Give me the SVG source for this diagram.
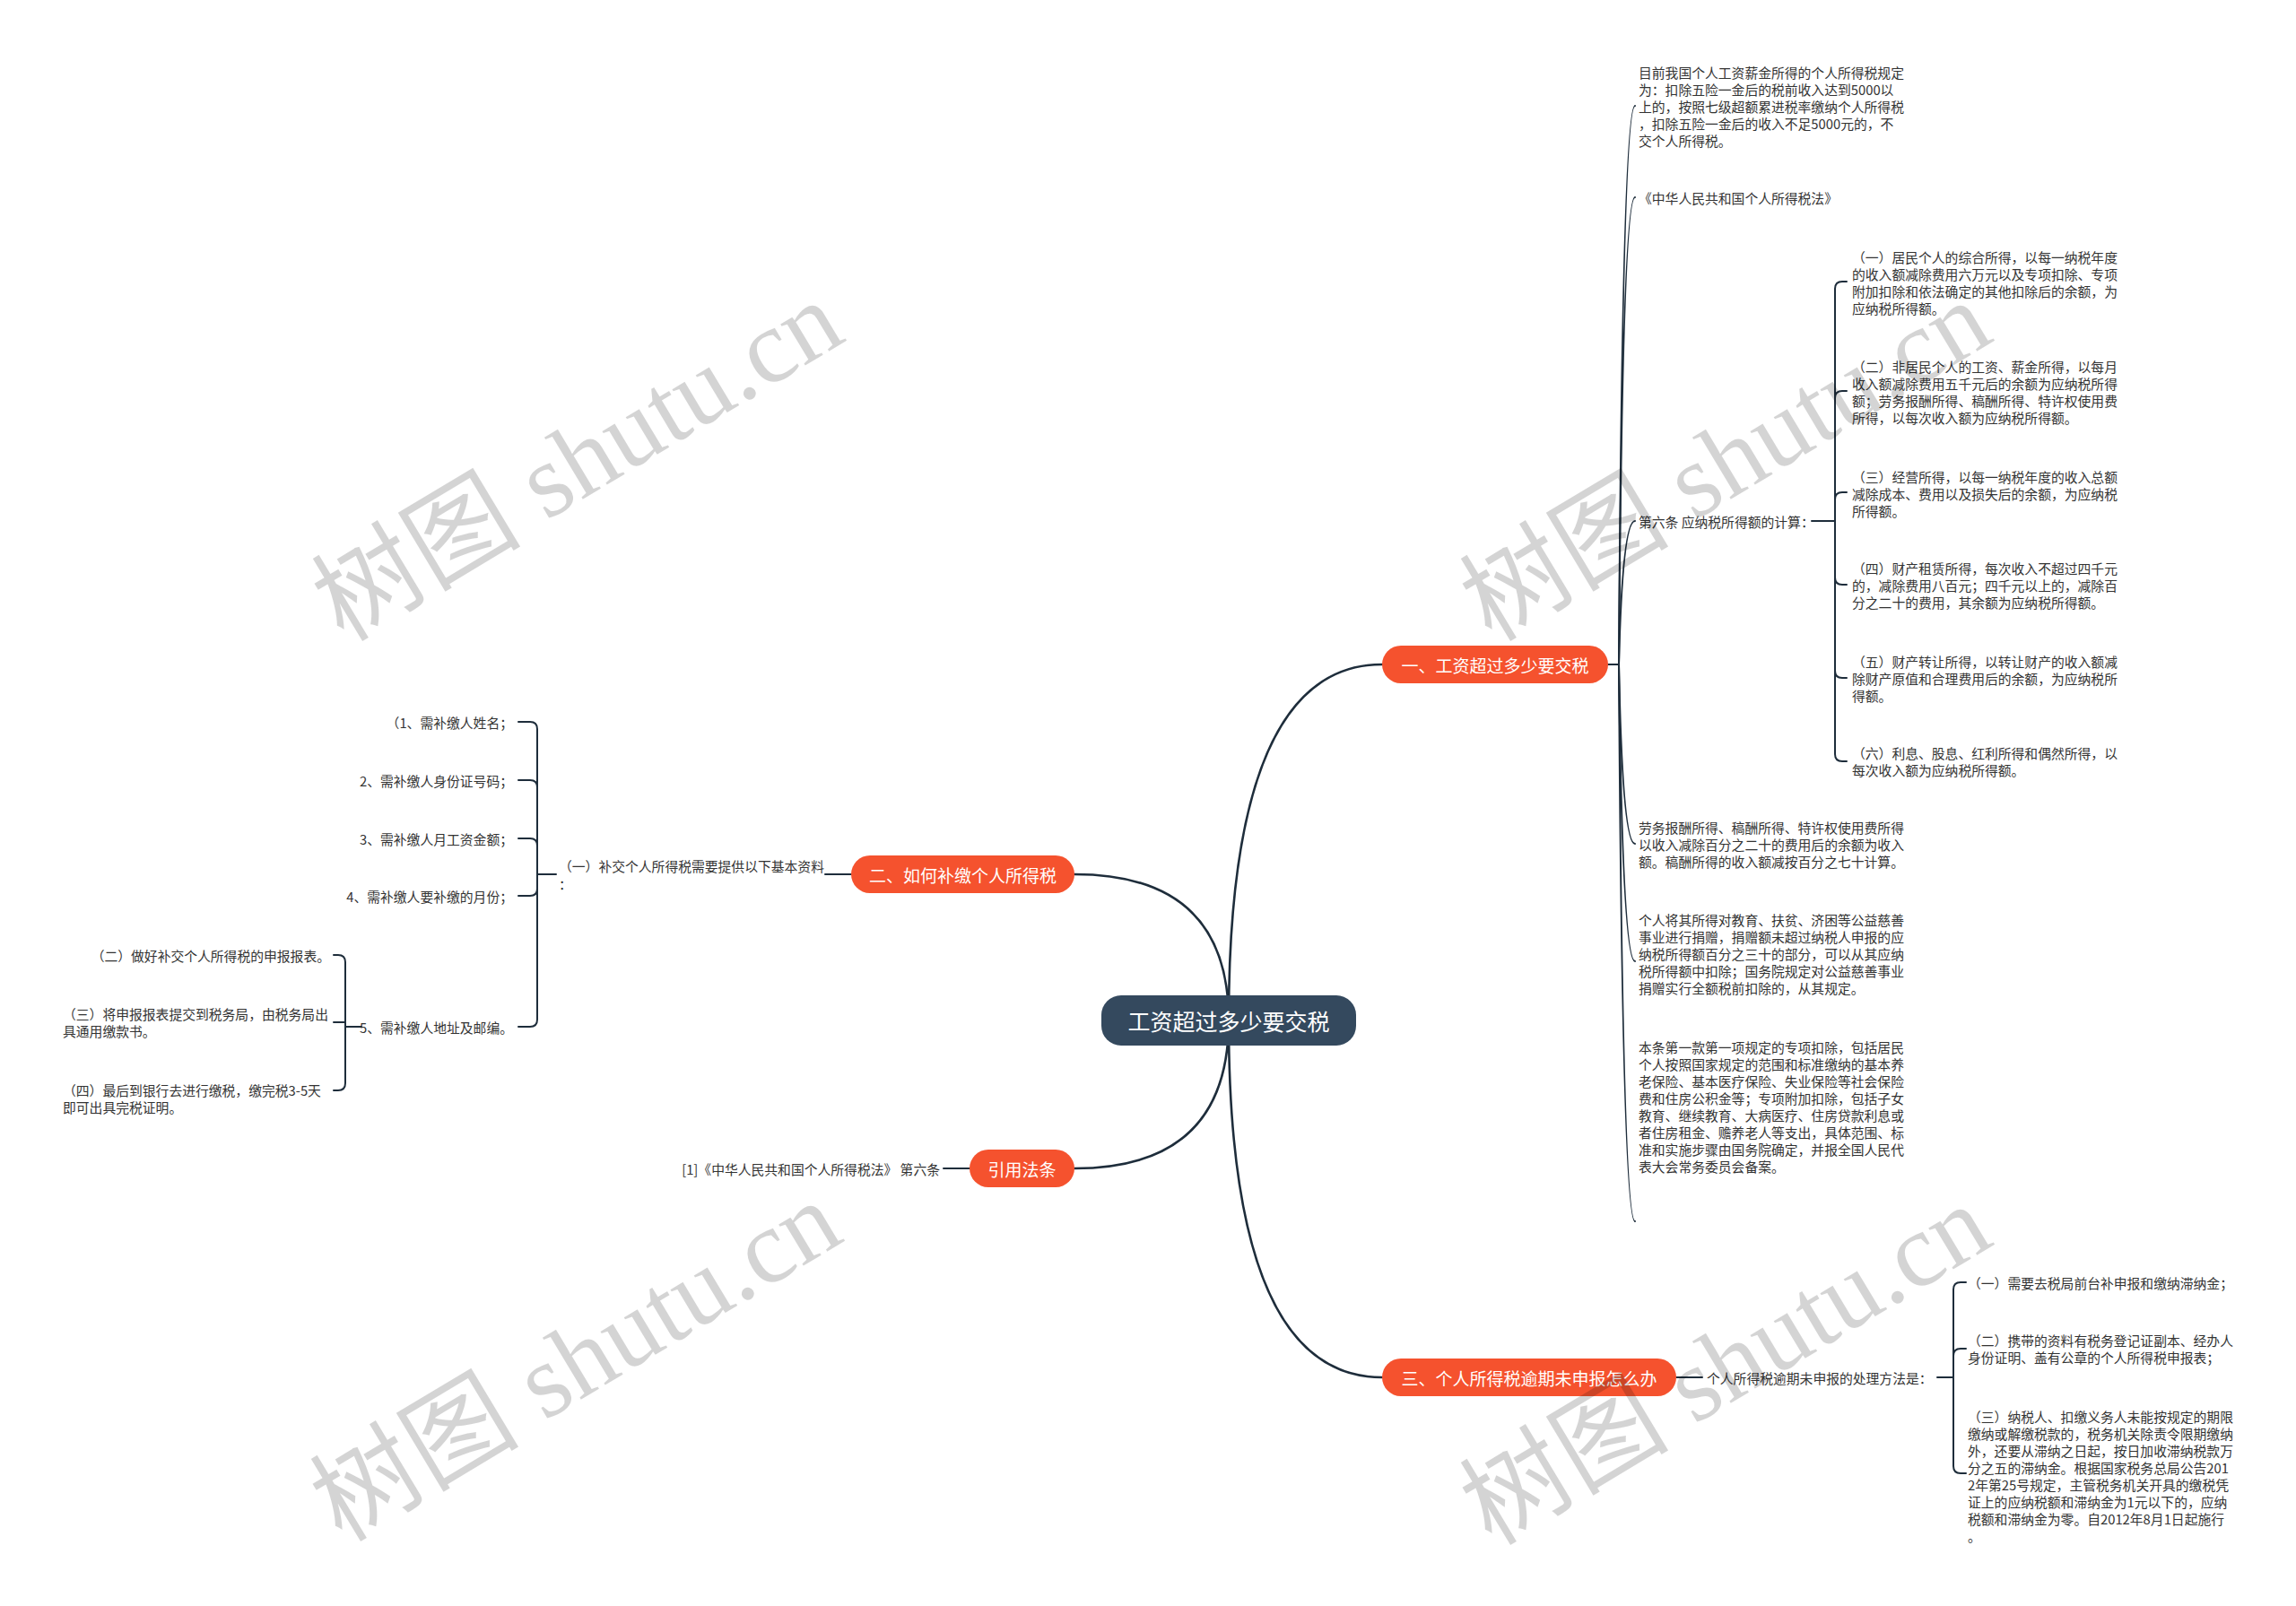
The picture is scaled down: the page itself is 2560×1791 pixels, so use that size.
<svg xmlns="http://www.w3.org/2000/svg" width="2560" height="1791" viewBox="0 0 2560 1791">
<style>
.bg{fill:#ffffff}
.ln{fill:none;stroke:#1e2d3b;stroke-width:2;stroke-linecap:round}
.main{fill:none;stroke:#1e2d3b;stroke-width:2.6;stroke-linecap:round}
.root rect{fill:#34495e}
.root text{fill:#ffffff;font-size:25px}
.br rect{fill:#f5522e}
.br text{fill:#ffffff;font-size:19px}
text{font-family:"Noto Sans CJK SC","Noto Sans",sans-serif;dominant-baseline:central}
.t{fill:#333333;font-size:14.8px}
.e{text-anchor:end}
.m{text-anchor:middle}
.wm{font-family:"Liberation Serif","Noto Sans CJK SC",serif;font-size:117px;fill:#000000;fill-opacity:0.17;text-anchor:middle}
</style>
<rect class="bg" x="0" y="0" width="2560" height="1791"/>

<g id="connectors">
  <path class="main" d="M1370,1138 Q1370,741 1541,741"/>
  <path class="main" d="M1370,1138 Q1370,975 1198,975"/>
  <path class="main" d="M1370,1138 Q1370,1303 1198,1303"/>
  <path class="main" d="M1370,1138 Q1370,1536 1541,1536"/>
  <!-- branch 1 -->
  <path class="ln" d="M1793,741 H1805"/>
  <path class="ln" d="M1805,741 Q1809,118 1823,118"/>
  <path class="ln" d="M1805,741 Q1809,220 1823,220"/>
  <path class="ln" d="M1805,741 Q1809,581 1823,581"/>
  <path class="ln" d="M1805,741 Q1809,941 1823,941"/>
  <path class="ln" d="M1805,741 Q1809,1072 1823,1072"/>
  <path class="ln" d="M1805,741 Q1809,1362 1823,1362"/>
  <!-- 第六条 bracket -->
  <path class="ln" d="M2020,581 H2046"/>
  <path class="ln" d="M2046,581 V322 Q2046,314 2054,314 H2059"/>
  <path class="ln" d="M2046,581 V444 Q2046,436 2054,436 H2059"/>
  <path class="ln" d="M2046,581 V557 Q2046,549 2054,549 H2059"/>
  <path class="ln" d="M2046,581 V644 Q2046,652 2054,652 H2059"/>
  <path class="ln" d="M2046,581 V748 Q2046,756 2054,756 H2059"/>
  <path class="ln" d="M2046,581 V841 Q2046,849 2054,849 H2059"/>
  <!-- branch 2 -->
  <path class="ln" d="M949,975 H920"/>
  <path class="ln" d="M620,975 H599"/>
  <path class="ln" d="M599,975 V813 Q599,805 591,805 H578"/>
  <path class="ln" d="M599,975 V878 Q599,870 591,870 H578"/>
  <path class="ln" d="M599,975 V943 Q599,935 591,935 H578"/>
  <path class="ln" d="M599,975 V991 Q599,999 591,999 H578"/>
  <path class="ln" d="M599,975 V1137 Q599,1145 591,1145 H578"/>
  <path class="ln" d="M403,1145 H385"/>
  <path class="ln" d="M385,1145 V1073 Q385,1065 377,1065 H372"/>
  <path class="ln" d="M385,1145 V1140 H372"/>
  <path class="ln" d="M385,1145 V1208 Q385,1216 377,1216 H372"/>
  <!-- 引用法条 -->
  <path class="ln" d="M1081,1303 H1052"/>
  <!-- branch 3 -->
  <path class="ln" d="M1869,1536 H1898"/>
  <path class="ln" d="M2160,1536 H2178"/>
  <path class="ln" d="M2178,1536 V1438 Q2178,1430 2186,1430 H2192"/>
  <path class="ln" d="M2178,1536 V1512 Q2178,1504 2186,1504 H2192"/>
  <path class="ln" d="M2178,1536 V1635 Q2178,1643 2186,1643 H2192"/>
</g>

<g id="root" class="root">
  <rect x="1228" y="1110" width="284" height="56" rx="22"/>
  <text class="m" x="1370" y="1138">工资超过多少要交税</text>
</g>

<g id="b1" class="br">
  <rect x="1541" y="720" width="252" height="42" rx="21"/>
  <text class="m" x="1667" y="741">一、工资超过多少要交税</text>
</g>
<g id="b2" class="br">
  <rect x="949" y="954" width="249" height="42" rx="21"/>
  <text class="m" x="1073.5" y="975">二、如何补缴个人所得税</text>
</g>
<g id="b4" class="br">
  <rect x="1081" y="1282" width="117" height="42" rx="21"/>
  <text class="m" x="1139.5" y="1303">引用法条</text>
</g>
<g id="b3" class="br">
  <rect x="1541" y="1515" width="328" height="42" rx="21"/>
  <text class="m" x="1705" y="1536">三、个人所得税逾期未申报怎么办</text>
</g>

<g id="n1a">
  <text class="t" x="1827" y="80">目前我国个人工资薪金所得的个人所得税规定</text>
  <text class="t" x="1827" y="99">为：扣除五险一金后的税前收入达到5000以</text>
  <text class="t" x="1827" y="118">上的，按照七级超额累进税率缴纳个人所得税</text>
  <text class="t" x="1827" y="137">，扣除五险一金后的收入不足5000元的，不</text>
  <text class="t" x="1827" y="156">交个人所得税。</text>
</g>
<g id="n1b"><text class="t" x="1827" y="220">《中华人民共和国个人所得税法》</text></g>
<g id="n1c"><text class="t" x="1827" y="581">第六条 应纳税所得额的计算：</text></g>
<g id="n1c1">
  <text class="t" x="2065" y="286">（一）居民个人的综合所得，以每一纳税年度</text>
  <text class="t" x="2065" y="305">的收入额减除费用六万元以及专项扣除、专项</text>
  <text class="t" x="2065" y="324">附加扣除和依法确定的其他扣除后的余额，为</text>
  <text class="t" x="2065" y="343">应纳税所得额。</text>
</g>
<g id="n1c2">
  <text class="t" x="2065" y="408">（二）非居民个人的工资、薪金所得，以每月</text>
  <text class="t" x="2065" y="427">收入额减除费用五千元后的余额为应纳税所得</text>
  <text class="t" x="2065" y="446">额；劳务报酬所得、稿酬所得、特许权使用费</text>
  <text class="t" x="2065" y="465">所得，以每次收入额为应纳税所得额。</text>
</g>
<g id="n1c3">
  <text class="t" x="2065" y="531">（三）经营所得，以每一纳税年度的收入总额</text>
  <text class="t" x="2065" y="550">减除成本、费用以及损失后的余额，为应纳税</text>
  <text class="t" x="2065" y="569">所得额。</text>
</g>
<g id="n1c4">
  <text class="t" x="2065" y="633">（四）财产租赁所得，每次收入不超过四千元</text>
  <text class="t" x="2065" y="652">的，减除费用八百元；四千元以上的，减除百</text>
  <text class="t" x="2065" y="671">分之二十的费用，其余额为应纳税所得额。</text>
</g>
<g id="n1c5">
  <text class="t" x="2065" y="737">（五）财产转让所得，以转让财产的收入额减</text>
  <text class="t" x="2065" y="756">除财产原值和合理费用后的余额，为应纳税所</text>
  <text class="t" x="2065" y="775">得额。</text>
</g>
<g id="n1c6">
  <text class="t" x="2065" y="839">（六）利息、股息、红利所得和偶然所得，以</text>
  <text class="t" x="2065" y="858">每次收入额为应纳税所得额。</text>
</g>
<g id="n1d">
  <text class="t" x="1827" y="922">劳务报酬所得、稿酬所得、特许权使用费所得</text>
  <text class="t" x="1827" y="941">以收入减除百分之二十的费用后的余额为收入</text>
  <text class="t" x="1827" y="960">额。稿酬所得的收入额减按百分之七十计算。</text>
</g>
<g id="n1e">
  <text class="t" x="1827" y="1025">个人将其所得对教育、扶贫、济困等公益慈善</text>
  <text class="t" x="1827" y="1044">事业进行捐赠，捐赠额未超过纳税人申报的应</text>
  <text class="t" x="1827" y="1063">纳税所得额百分之三十的部分，可以从其应纳</text>
  <text class="t" x="1827" y="1082">税所得额中扣除；国务院规定对公益慈善事业</text>
  <text class="t" x="1827" y="1101">捐赠实行全额税前扣除的，从其规定。</text>
</g>
<g id="n1f">
  <text class="t" x="1827" y="1167">本条第一款第一项规定的专项扣除，包括居民</text>
  <text class="t" x="1827" y="1186">个人按照国家规定的范围和标准缴纳的基本养</text>
  <text class="t" x="1827" y="1205">老保险、基本医疗保险、失业保险等社会保险</text>
  <text class="t" x="1827" y="1224">费和住房公积金等；专项附加扣除，包括子女</text>
  <text class="t" x="1827" y="1243">教育、继续教育、大病医疗、住房贷款利息或</text>
  <text class="t" x="1827" y="1262">者住房租金、赡养老人等支出，具体范围、标</text>
  <text class="t" x="1827" y="1281">准和实施步骤由国务院确定，并报全国人民代</text>
  <text class="t" x="1827" y="1300">表大会常务委员会备案。</text>
</g>

<g id="n2a">
  <text class="t" x="623" y="965">（一）补交个人所得税需要提供以下基本资料</text>
  <text class="t" x="623" y="985">：</text>
</g>
<g id="n2a1"><text class="t e" x="572" y="805">（1、需补缴人姓名；</text></g>
<g id="n2a2"><text class="t e" x="572" y="870">2、需补缴人身份证号码；</text></g>
<g id="n2a3"><text class="t e" x="572" y="935">3、需补缴人月工资金额；</text></g>
<g id="n2a4"><text class="t e" x="572" y="999">4、需补缴人要补缴的月份；</text></g>
<g id="n2a5"><text class="t e" x="572" y="1145">5、需补缴人地址及邮编。</text></g>
<g id="n2a5a"><text class="t e" x="368" y="1065">（二）做好补交个人所得税的申报报表。</text></g>
<g id="n2a5b">
  <text class="t" x="70" y="1130">（三）将申报报表提交到税务局，由税务局出</text>
  <text class="t" x="70" y="1149">具通用缴款书。</text>
</g>
<g id="n2a5c">
  <text class="t" x="70" y="1215">（四）最后到银行去进行缴税，缴完税3-5天</text>
  <text class="t" x="70" y="1234">即可出具完税证明。</text>
</g>

<g id="n4a"><text class="t e" x="1048" y="1303">[1]《中华人民共和国个人所得税法》 第六条</text></g>

<g id="n3a"><text class="t" x="1903" y="1536">个人所得税逾期未申报的处理方法是：</text></g>
<g id="n3a1"><text class="t" x="2194" y="1430">（一）需要去税局前台补申报和缴纳滞纳金；</text></g>
<g id="n3a2">
  <text class="t" x="2194" y="1494">（二）携带的资料有税务登记证副本、经办人</text>
  <text class="t" x="2194" y="1513">身份证明、盖有公章的个人所得税申报表；</text>
</g>
<g id="n3a3">
  <text class="t" x="2194" y="1579">（三）纳税人、扣缴义务人未能按规定的期限</text>
  <text class="t" x="2194" y="1598">缴纳或解缴税款的，税务机关除责令限期缴纳</text>
  <text class="t" x="2194" y="1617">外，还要从滞纳之日起，按日加收滞纳税款万</text>
  <text class="t" x="2194" y="1636">分之五的滞纳金。根据国家税务总局公告201</text>
  <text class="t" x="2194" y="1655">2年第25号规定，主管税务机关开具的缴税凭</text>
  <text class="t" x="2194" y="1674">证上的应纳税额和滞纳金为1元以下的，应纳</text>
  <text class="t" x="2194" y="1693">税额和滞纳金为零。自2012年8月1日起施行</text>
  <text class="t" x="2194" y="1712">。</text>
</g>

<g id="watermarks">
  <text class="wm" transform="translate(644,514) rotate(-31)">树图 shutu.cn</text>
  <text class="wm" transform="translate(1924,514) rotate(-31)">树图 shutu.cn</text>
  <text class="wm" transform="translate(642,1518) rotate(-31)">树图 shutu.cn</text>
  <text class="wm" transform="translate(1924,1522) rotate(-31)">树图 shutu.cn</text>
</g>
</svg>
